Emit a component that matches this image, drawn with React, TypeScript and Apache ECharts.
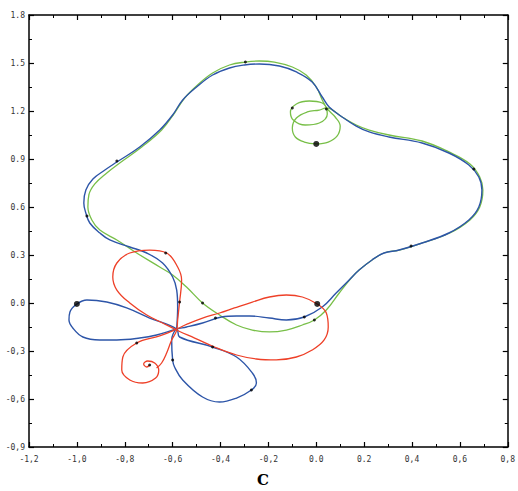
import React, { useEffect, useRef } from "react";
import * as echarts from "echarts";

const xTickLabels = ["-1,2", "-1,0", "-0,8", "-0,6", "-0,4", "-0,2", "0.0", "0.2", "0,4", "0,6", "0,8"];
const yTickLabels = ["-0,9", "-0,6", "-0,3", "0.0", "0.3", "0.6", "0.9", "1.2", "1.5", "1.8"];

const bluePath: [number, number][] = [
  [-0.583, -0.156], [-0.579, -0.025], [-0.583, 0.081], [-0.6, 0.1625], [-0.642, 0.25], [-0.708, 0.3125],
  [-0.779, 0.35], [-0.8625, 0.394], [-0.904, 0.4375], [-0.946, 0.5], [-0.9625, 0.5625], [-0.971, 0.625],
  [-0.9625, 0.706], [-0.933, 0.775], [-0.883, 0.831], [-0.833, 0.881], [-0.7375, 0.975], [-0.654, 1.081],
  [-0.6, 1.175], [-0.558, 1.269], [-0.5, 1.35], [-0.433, 1.425], [-0.3625, 1.469], [-0.3, 1.4875],
  [-0.2375, 1.494], [-0.154, 1.481], [-0.083, 1.444], [-0.017, 1.381], [0.025, 1.2875], [0.054, 1.225],
  [0.108, 1.1625], [0.167, 1.106], [0.221, 1.069], [0.304, 1.0375], [0.442, 1.0], [0.554, 0.9375],
  [0.6375, 0.8625], [0.679, 0.7875], [0.692, 0.706], [0.679, 0.6], [0.6375, 0.519], [0.554, 0.4375],
  [0.442, 0.375], [0.346, 0.331], [0.283, 0.3125], [0.233, 0.269], [0.179, 0.206], [0.1375, 0.144],
  [0.083, 0.0625], [0.025, -0.025], [-0.05, -0.0875], [-0.125, -0.106], [-0.196, -0.094], [-0.279, -0.081],
  [-0.333, -0.081], [-0.396, -0.0875], [-0.475, -0.125], [-0.542, -0.15], [-0.583, -0.1625],
  [-0.667, -0.2], [-0.7375, -0.219], [-0.833, -0.231], [-0.904, -0.231], [-0.975, -0.2125], [-1.017, -0.156],
  [-1.033, -0.106], [-1.029, -0.056], [-1.0, -0.006], [-0.958, 0.019], [-0.875, 0.006], [-0.792, -0.031],
  [-0.696, -0.094], [-0.583, -0.1625],
  [-0.571, -0.2125], [-0.433, -0.275], [-0.333, -0.3375], [-0.267, -0.4375], [-0.25, -0.5], [-0.271, -0.544],
  [-0.333, -0.594], [-0.404, -0.619], [-0.475, -0.5875], [-0.558, -0.481], [-0.592, -0.4], [-0.6, -0.356],
  [-0.604, -0.231], [-0.583, -0.156],
];

const greenPath: [number, number][] = [
  [0.0, 0.994], [-0.05, 1.006], [-0.0875, 1.0375], [-0.1, 1.094], [-0.083, 1.156], [-0.0375, 1.194],
  [0.0125, 1.206], [0.042, 1.219], [0.108, 1.1625], [0.167, 1.1125], [0.221, 1.081], [0.304, 1.05],
  [0.442, 1.0125], [0.554, 0.944], [0.642, 0.869], [0.683, 0.7875], [0.696, 0.706], [0.683, 0.6],
  [0.642, 0.519], [0.558, 0.4375], [0.442, 0.375], [0.346, 0.331], [0.283, 0.3125], [0.233, 0.269],
  [0.179, 0.206], [0.146, 0.156], [0.096, 0.0625], [0.042, -0.044], [-0.008, -0.106], [-0.058, -0.1375],
  [-0.125, -0.169], [-0.196, -0.181], [-0.267, -0.169], [-0.333, -0.1375], [-0.404, -0.075], [-0.475, 0.0],
  [-0.542, 0.1], [-0.6, 0.175], [-0.654, 0.225], [-0.75, 0.3125], [-0.833, 0.394], [-0.904, 0.456],
  [-0.9375, 0.519], [-0.954, 0.6], [-0.95, 0.675], [-0.925, 0.744], [-0.875, 0.8125], [-0.821, 0.875],
  [-0.729, 0.975], [-0.646, 1.081], [-0.592, 1.1875], [-0.55, 1.281], [-0.496, 1.3625], [-0.433, 1.4375],
  [-0.3625, 1.4875], [-0.296, 1.506], [-0.2375, 1.5125], [-0.175, 1.506], [-0.1, 1.475], [-0.042, 1.425],
  [0.0, 1.35], [0.025, 1.269], [0.042, 1.219],
  [0.046, 1.181], [0.0125, 1.125], [-0.046, 1.1125], [-0.096, 1.144], [-0.108, 1.194], [-0.083, 1.244],
  [-0.029, 1.2625], [0.025, 1.25], [0.05, 1.206], [0.079, 1.1625], [0.1, 1.106], [0.0875, 1.044],
  [0.05, 1.006], [0.0, 0.994],
];

const redPath: [number, number][] = [
  [-0.696, -0.3875], [-0.708, -0.4], [-0.721, -0.381], [-0.704, -0.3625], [-0.675, -0.375], [-0.658, -0.419],
  [-0.671, -0.469], [-0.725, -0.5], [-0.779, -0.481], [-0.8125, -0.419], [-0.808, -0.3375], [-0.75, -0.25],
  [-0.654, -0.206], [-0.583, -0.1625],
  [-0.5375, -0.131], [-0.475, -0.094], [-0.404, -0.0625], [-0.342, -0.031], [-0.267, 0.006], [-0.196, 0.0375],
  [-0.125, 0.05], [-0.058, 0.0375], [0.004, -0.006],
  [0.042, -0.0625], [0.05, -0.15], [0.033, -0.231], [-0.017, -0.294], [-0.083, -0.3375], [-0.167, -0.356],
  [-0.25, -0.35], [-0.333, -0.325], [-0.425, -0.275], [-0.508, -0.219], [-0.575, -0.175],
  [-0.642, -0.125], [-0.708, -0.075], [-0.779, 0.0], [-0.833, 0.081], [-0.85, 0.1625], [-0.833, 0.25],
  [-0.779, 0.3125], [-0.696, 0.331], [-0.625, 0.3125], [-0.579, 0.225], [-0.5625, 0.144], [-0.571, 0.006],
  [-0.579, -0.106], [-0.583, -0.169],
  [-0.604, -0.231], [-0.625, -0.3125], [-0.646, -0.375], [-0.667, -0.406],
];

const bigDots: [number, number][] = [
  [-1.0, -0.006], [0.0, 0.994], [0.004, -0.006],
];

const smallDots: [number, number][] = [
  [0.042, 1.2125], [-0.696, -0.3875], [-0.833, 0.8875], [-0.958, 0.544], [-0.296, 1.506], [-0.1, 1.219],
  [0.396, 0.356], [0.658, 0.8375], [-0.571, 0.006], [-0.75, -0.25], [-0.6, -0.356], [-0.271, -0.544],
  [-0.433, -0.275], [-0.475, 0.0], [-0.421, -0.094], [-0.05, -0.0875], [-0.008, -0.106], [-0.629, 0.3125],
];

const X_MIN = -1.2, X_STEP = 0.2;
const Y_MIN = -0.9, Y_STEP = 0.3;

export default function App() {
  const ref = useRef<HTMLDivElement>(null);
  useEffect(() => {
    if (!ref.current) return;
    const chart = echarts.init(ref.current, undefined, { renderer: "svg" });
    const labelStyle = { color: "#333", fontSize: 8, fontFamily: "DejaVu Sans Mono" };
    const axisLine = { show: true, onZero: false, lineStyle: { color: "#000", width: 1.5 } };
    const baseX = {
      type: "value" as const, min: -1.2, max: 0.8, interval: 0.2,
      axisLine, splitLine: { show: false },
      axisTick: { show: true, inside: true, length: 5, lineStyle: { color: "#000", width: 1.2 } },
      minorTick: { show: true, splitNumber: 2, length: 3, lineStyle: { color: "#000", width: 1 } },
    };
    const baseY = {
      type: "value" as const, min: -0.9, max: 1.8, interval: 0.3,
      axisLine, splitLine: { show: false },
      axisTick: { show: true, inside: true, length: 5, lineStyle: { color: "#000", width: 1.2 } },
      minorTick: { show: true, splitNumber: 2, length: 3, lineStyle: { color: "#000", width: 1 } },
    };
    chart.setOption({
      animation: false,
      backgroundColor: "#fff",
      title: {
        text: "C", left: 252, top: 467,
        textStyle: { fontSize: 15, fontWeight: "bold", fontFamily: "DejaVu Serif", color: "#000" },
      },
      grid: { left: 29, right: 9, top: 15, bottom: 44 },
      xAxis: [
        {
          ...baseX, position: "bottom",
          axisLabel: {
            ...labelStyle, margin: 8,
            formatter: (v: number) => xTickLabels[Math.round((v - X_MIN) / X_STEP)] ?? "",
          },
        },
        { ...baseX, position: "top", axisLabel: { show: false } },
      ],
      yAxis: [
        {
          ...baseY, position: "left",
          axisLabel: {
            ...labelStyle, margin: 4,
            formatter: (v: number) => yTickLabels[Math.round((v - Y_MIN) / Y_STEP)] ?? "",
          },
        },
        { ...baseY, position: "right", axisLabel: { show: false } },
      ],
      series: [
        {
          type: "line", data: greenPath, showSymbol: false, smooth: 0.4,
          lineStyle: { color: "#78bf48", width: 1.3 }, z: 2,
        },
        {
          type: "line", data: bluePath, showSymbol: false, smooth: 0.4,
          lineStyle: { color: "#2d55a8", width: 1.4 }, z: 3,
        },
        {
          type: "line", data: redPath, showSymbol: false, smooth: 0.4,
          lineStyle: { color: "#ee4028", width: 1.3 }, z: 4,
        },
        {
          type: "scatter", data: smallDots, symbolSize: 3,
          itemStyle: { color: "#000" }, z: 5,
        },
        {
          type: "scatter", data: bigDots, symbolSize: 6,
          itemStyle: { color: "#000" }, z: 5,
        },
      ],
    });
    return () => chart.dispose();
  }, []);
  return (
    <div
      ref={ref}
      style={{ position: "fixed", left: 0, top: 0, width: 518, height: 491, background: "#fff" }}
    />
  );
}
